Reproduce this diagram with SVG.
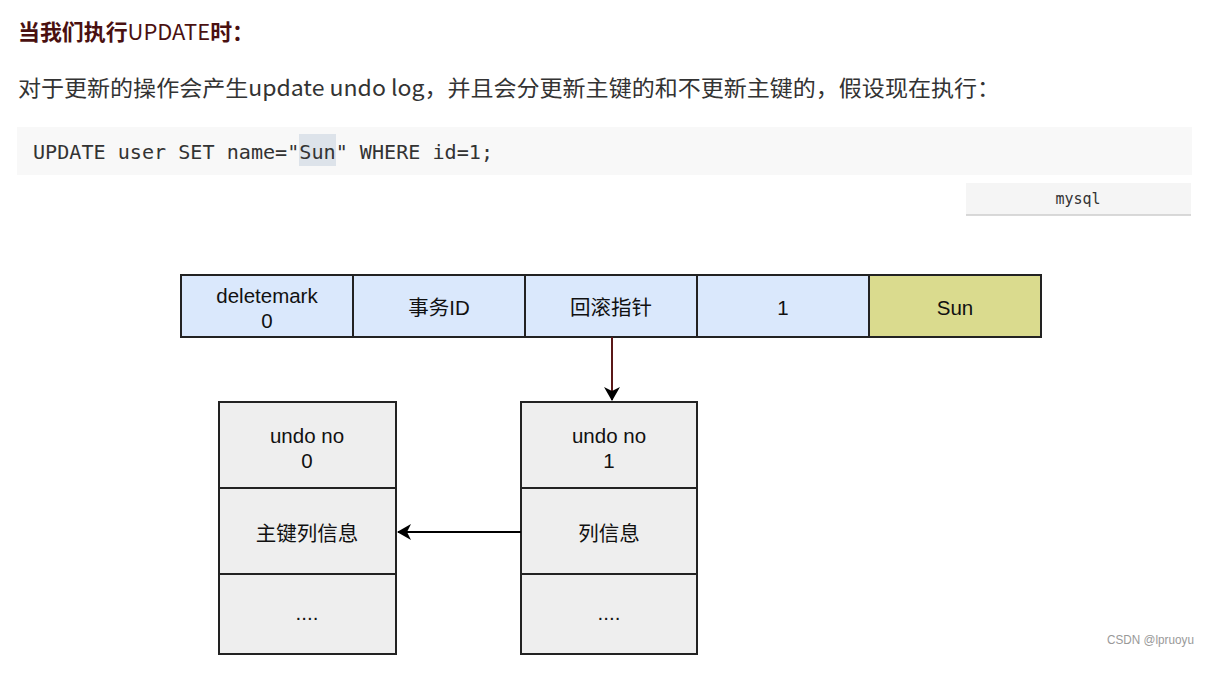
<svg xmlns="http://www.w3.org/2000/svg" width="1209" height="685" viewBox="0 0 1209 685">
<defs>
<style>
.cell{stroke:#222;stroke-width:2}
.blue{fill:#dae8fc}
.sun{fill:#dadb8e}
.grey{fill:#eeeeee}
.lbl{font-family:"Liberation Sans","Noto Sans CJK SC",sans-serif;font-size:20.5px;fill:#111;text-anchor:middle}
.conn{fill:none;stroke-width:2}
</style>
<marker id="ah" viewBox="0 0 14 16" refX="13" refY="8" markerWidth="14" markerHeight="16" markerUnits="userSpaceOnUse" orient="auto">
<path d="M0,0 L14,8 L0,16 L4,8 z" fill="#000"/>
</marker>
</defs>
<rect width="1209" height="685" fill="#ffffff"/>
<text x="18" y="40" font-family="'Noto Sans CJK SC',sans-serif" font-size="22" font-weight="bold" fill="#4a1010" textLength="236" lengthAdjust="spacingAndGlyphs">当我们执行<tspan font-weight="normal">UPDATE</tspan>时：</text>
<text x="18" y="96" font-family="'Noto Sans CJK SC',sans-serif" font-size="22" fill="#333" textLength="982" lengthAdjust="spacingAndGlyphs">对于更新的操作会产生update undo log，并且会分更新主键的和不更新主键的，假设现在执行：</text>
<rect x="17" y="127" width="1175" height="48" fill="#f8f8f8"/>
<rect x="299" y="134" width="37" height="32" fill="#dde3ea"/>
<text x="33" y="159" font-family="'DejaVu Sans Mono','Liberation Mono',monospace" font-size="19" fill="#333" textLength="460" lengthAdjust="spacingAndGlyphs">UPDATE user SET name="Sun" WHERE id=1;</text>
<rect x="966" y="183" width="225" height="32" fill="#f5f5f5"/>
<line x1="966" y1="215" x2="1191" y2="215" stroke="#cccccc" stroke-width="1.5"/>
<text x="1078" y="204" font-family="'DejaVu Sans Mono','Liberation Mono',monospace" font-size="15" fill="#333" text-anchor="middle">mysql</text>

<g id="row">
<g id="c-deletemark"><rect class="cell blue" x="181" y="275" width="172" height="62"/><text class="lbl" x="267" y="303">deletemark</text><text class="lbl" x="267" y="328">0</text></g>
<g id="c-txid"><rect class="cell blue" x="353" y="275" width="172" height="62"/><text class="lbl" x="439" y="315">事务ID</text></g>
<g id="c-rollptr"><rect class="cell blue" x="525" y="275" width="172" height="62"/><text class="lbl" x="611" y="315">回滚指针</text></g>
<g id="c-id"><rect class="cell blue" x="697" y="275" width="172" height="62"/><text class="lbl" x="783" y="315">1</text></g>
<g id="c-name"><rect class="cell sun" x="869" y="275" width="172" height="62"/><text class="lbl" x="955" y="315">Sun</text></g>
</g>

<g id="undo0">
<rect class="cell grey" x="219" y="402" width="177" height="86"/>
<text class="lbl" x="307" y="443">undo no</text><text class="lbl" x="307" y="468">0</text>
<rect class="cell grey" x="219" y="488" width="177" height="86"/>
<text class="lbl" x="307" y="541">主键列信息</text>
<rect class="cell grey" x="219" y="574" width="177" height="80"/>
<text class="lbl" x="307" y="620">....</text>
</g>

<g id="undo1">
<rect class="cell grey" x="521" y="402" width="176" height="86"/>
<text class="lbl" x="609" y="443">undo no</text><text class="lbl" x="609" y="468">1</text>
<rect class="cell grey" x="521" y="488" width="176" height="86"/>
<text class="lbl" x="609" y="541">列信息</text>
<rect class="cell grey" x="521" y="574" width="176" height="80"/>
<text class="lbl" x="609" y="620">....</text>
</g>

<g id="connectors">
<line class="conn" x1="612" y1="337" x2="612" y2="400" stroke="#5a1818" marker-end="url(#ah)"/>
<line class="conn" x1="521" y1="532" x2="398" y2="532" stroke="#000" marker-end="url(#ah)"/>
</g>

<text x="1107" y="644" font-family="'Liberation Sans',sans-serif" font-size="12.5" fill="#999" textLength="87" lengthAdjust="spacingAndGlyphs">CSDN @lpruoyu</text>
</svg>
